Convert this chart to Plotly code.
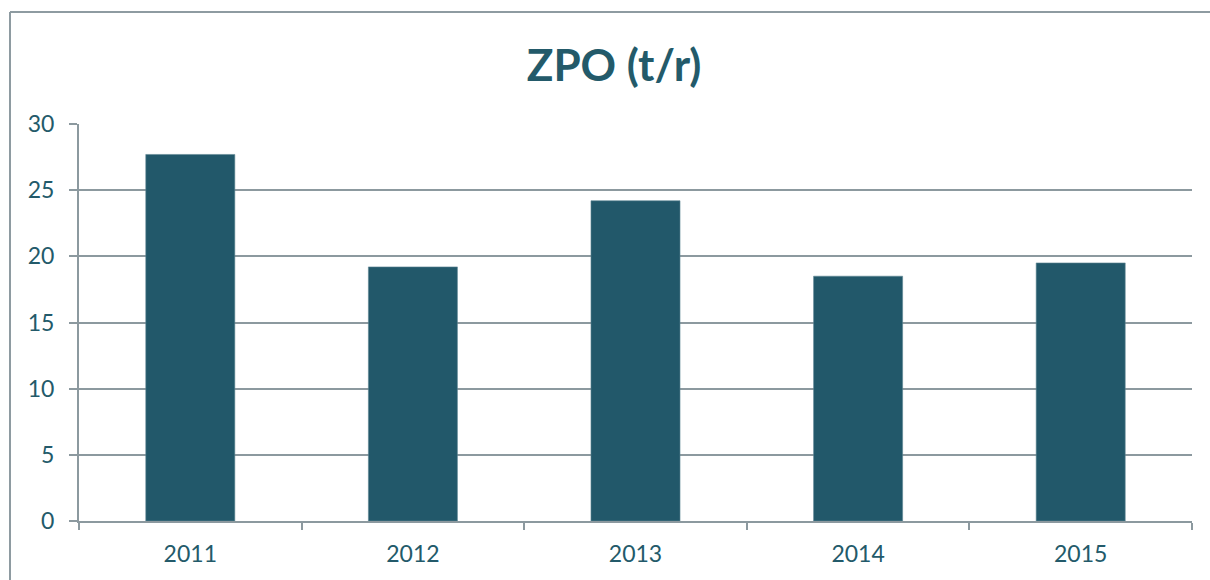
import plotly.graph_objects as go

years = ["2011", "2012", "2013", "2014", "2015"]
values = [27.7, 19.2, 24.2, 18.5, 19.5]
y_ticks = [0, 5, 10, 15, 20, 25, 30]

W, H = 1210, 580
L, R, T, B = 79, 18, 124, 59
pw, ph = W - L - R, H - T - B

def px_x(px):
    return (px - L) / pw

def px_y(py):
    return (H - B - py) / ph

text_col = "#235A6A"
bar_col = "#22586A"
grid_col = "#8C999F"

fig = go.Figure(go.Bar(
    x=years, y=values,
    marker=dict(color=bar_col, line=dict(color="#5F8793", width=0.6)),
    width=0.4,
))

fig.update_layout(
    width=W, height=H,
    margin=dict(l=L, r=R, t=T, b=B),
    paper_bgcolor="white", plot_bgcolor="white",
    showlegend=False,
    font=dict(family="Lato, sans-serif", color=text_col, size=23),
    title=dict(text="<b>ZPO (t/r)</b>", x=(614) / W, xanchor="center",
               y=1 - 66 / H, yanchor="middle",
               font=dict(size=44, color=text_col, family="Lato, sans-serif")),
    xaxis=dict(
        type="category", tickson="boundaries", ticks="outside", ticklen=7,
        tickwidth=2, tickcolor=grid_col, showline=True, linecolor=grid_col,
        linewidth=2, showgrid=False, ticklabelstandoff=11,
        tickfont=dict(size=23, color=text_col),
    ),
    yaxis=dict(
        range=[0, 30], tickvals=y_ticks, ticks="outside", ticklen=8,
        tickwidth=2, tickcolor=grid_col, showline=True, linecolor=grid_col,
        linewidth=2, showgrid=True, gridcolor=grid_col, gridwidth=2,
        zeroline=False, ticklabelstandoff=10,
        tickfont=dict(size=23, color=text_col),
    ),
    shapes=[
        dict(type="line", xref="paper", yref="paper",
             x0=px_x(10), x1=px_x(10), y0=px_y(600), y1=px_y(12),
             line=dict(color="#8E9BA1", width=2)),
        dict(type="line", xref="paper", yref="paper",
             x0=px_x(10), x1=px_x(1230), y0=px_y(12), y1=px_y(12),
             line=dict(color="#8E9BA1", width=2)),
    ],
)

fig.write_html("out.html", config={"displayModeBar": False},
               post_script="document.body.style.margin='0';document.body.style.overflow='hidden';")
